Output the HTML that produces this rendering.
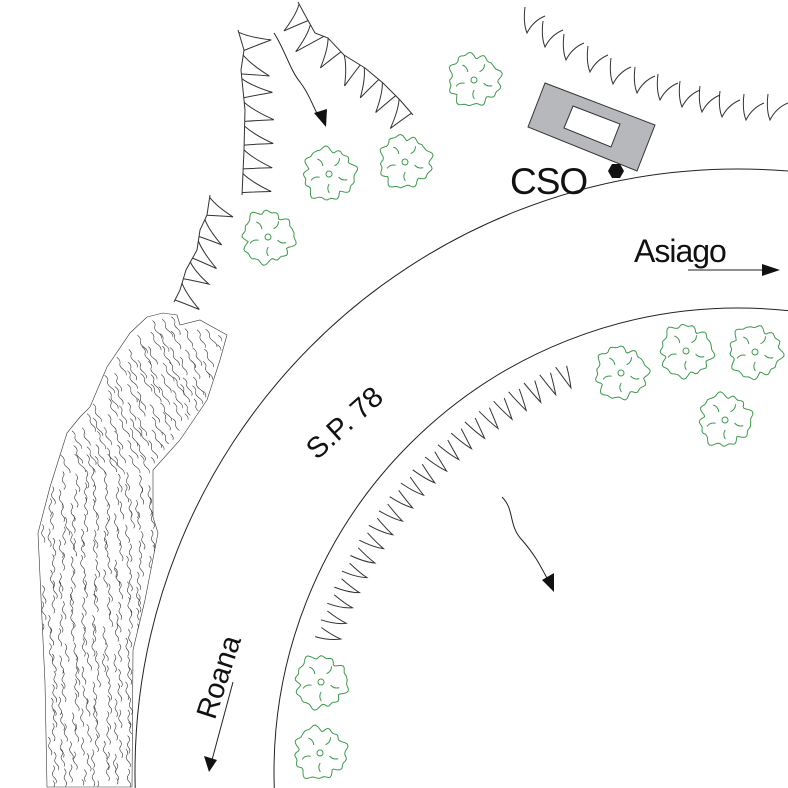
<!DOCTYPE html>
<html><head><meta charset="utf-8">
<style>
html,body{margin:0;padding:0;background:#fff;width:788px;height:788px;overflow:hidden;}
svg{display:block;}
text{font-family:"Liberation Sans",sans-serif;fill:#111;}
</style></head>
<body>
<svg id="s" width="788" height="788" viewBox="0 0 788 788" xmlns="http://www.w3.org/2000/svg">
<rect width="788" height="788" fill="#fff"/>
<g fill="none" stroke="#222" stroke-width="1">
<circle cx="738" cy="772" r="603"/>
<circle cx="738" cy="772" r="464"/>
</g>
<g id="rock" fill="none" stroke="#333" stroke-width="0.6"></g>
<g id="teeth" fill="none" stroke="#333" stroke-width="1"></g>
<g id="trees" fill="none" stroke="#3c9a4c" stroke-width="1"></g>
<polygon points="545,83 655,125 637,171 528,127" fill="#b7b8bb" stroke="#333" stroke-width="1"/>
<polygon points="573,106 620,124 611,147 564,128" fill="#fff" stroke="#333" stroke-width="1"/>
<polygon points="612,164 620,164 624,171 620,178 612,178 608,171" fill="#111"/>
<g fill="none" stroke="#222" stroke-width="1">
<path d="M274,33 C285,50 290,70 300,82 C310,95 312,105 318,115"/>
<path d="M502,497 C515,510 508,525 522,540 C535,555 540,565 548,580"/>
<line x1="688" y1="270" x2="768" y2="270"/>
<line x1="233" y1="682" x2="212" y2="760"/>
</g>
<polygon points="314,113 327,109 326,127" fill="#111"/>
<polygon points="542,580 554,573 554,592" fill="#111"/>
<polygon points="762,264 780,270 762,276" fill="#111"/>
<polygon points="204,756 217,760 209,772" fill="#111"/>
<text x="510" y="194" font-size="37" letter-spacing="-1">CSO</text>
<text x="634" y="262" font-size="32" letter-spacing="-1">Asiago</text>
<text x="0" y="0" font-size="29" transform="translate(351,430) rotate(-42)" text-anchor="middle">S.P. 78</text>
<text x="0" y="0" font-size="29" transform="translate(228,680) rotate(-72)" text-anchor="middle">Roana</text>
</svg>
<script>
(function(){
var seed=7;function rnd(){seed=(seed*16807)%2147483647;return (seed-1)/2147483646;}
var NS="http://www.w3.org/2000/svg";
function add(g,d){var p=document.createElementNS(NS,"path");p.setAttribute("d",d);document.getElementById(g).appendChild(p);}
function plen(P){var L=[0];for(var i=1;i<P.length;i++){L.push(L[i-1]+Math.hypot(P[i][0]-P[i-1][0],P[i][1]-P[i-1][1]));}return L;}
function at(P,L,d){for(var i=1;i<P.length;i++){if(d<=L[i]||i==P.length-1){var seg=L[i]-L[i-1]||1;var t=(d-L[i-1])/seg;var dx=(P[i][0]-P[i-1][0])/seg,dy=(P[i][1]-P[i-1][1])/seg;return [P[i-1][0]+(P[i][0]-P[i-1][0])*t,P[i-1][1]+(P[i][1]-P[i-1][1])*t,dx,dy];}}}
function teeth(P,n,depth,side,w,base){
 var L=plen(P),T=L[L.length-1],sp=T/n;
 if(base){var d="M"+P[0][0]+","+P[0][1];for(var i=1;i<P.length;i++)d+=" L"+P[i][0]+","+P[i][1];add("teeth",d);}
 for(var k=0;k<n;k++){var c=sp*(k+0.5);var a=at(P,L,c-sp*w),b=at(P,L,c+sp*w),m=at(P,L,c);
  var nx=-m[3]*side,ny=m[2]*side;var tx=m[0]+nx*depth+m[2]*sp*0.3,ty=m[1]+ny*depth+m[3]*sp*0.3;
  var q1x=(a[0]+tx)/2-nx*5,q1y=(a[1]+ty)/2-ny*5,q2x=(b[0]+tx)/2-nx*3,q2y=(b[1]+ty)/2-ny*3;
  add("teeth","M"+a[0].toFixed(1)+","+a[1].toFixed(1)+" Q"+q1x.toFixed(1)+","+q1y.toFixed(1)+" "+tx.toFixed(1)+","+ty.toFixed(1)+" Q"+q2x.toFixed(1)+","+q2y.toFixed(1)+" "+b[0].toFixed(1)+","+b[1].toFixed(1));}
}
teeth([[238,30],[244,50],[241,70],[245,110],[244,150],[242,195]],7,29,-1,0.4,true);
teeth([[298,2],[305,15],[315,33],[328,38],[344,55],[365,68],[383,83],[400,100],[413,115]],7,26,1,0.4,true);
teeth([[210,195],[207,215],[200,230],[197,250],[186,270],[180,290],[174,302]],5,26,-1,0.4,true);
var tips=[[527,33],[545,47],[566,60],[590,72],[613,84],[637,93],[660,100],[682,107],[702,112],[722,117],[746,120],[770,120]];
tips.forEach(function(t){add("teeth","M"+(t[0]-2)+","+(t[1]-26)+" Q"+(t[0]-4)+","+(t[1]-10)+" "+t[0]+","+t[1]+" Q"+(t[0]+6)+","+(t[1]-12)+" "+(t[0]+18)+","+(t[1]-17));});
var cx=738,cy=772;
for(var k=0;k<22;k++){var ang=(198.5+k*(66.5-18.5)/21)*Math.PI/180;
 var tx=cx+419*Math.cos(ang),ty=cy+419*Math.sin(ang);
 var a1=ang-0.013,a2=ang+0.011;
 var x1=cx+444*Math.cos(a1),y1=cy+444*Math.sin(a1),x2=cx+441*Math.cos(a2),y2=cy+441*Math.sin(a2);
 add("teeth","M"+x1.toFixed(1)+","+y1.toFixed(1)+" Q"+((x1+tx)/2+2).toFixed(1)+","+((y1+ty)/2+3).toFixed(1)+" "+tx.toFixed(1)+","+ty.toFixed(1)+" Q"+((x2+tx)/2+1).toFixed(1)+","+((y2+ty)/2+2).toFixed(1)+" "+x2.toFixed(1)+","+y2.toFixed(1));}
var TR=[[474,80],[329,174],[405,162],[268,237],[621,373],[686,351],[755,352],[725,420],[321,682],[320,753]];
TR.forEach(function(c){var d="";var N=80;for(var i=0;i<=N;i++){var a=i/N*2*Math.PI;var r=23+3.5*Math.abs(Math.sin(a*4+c[0]))+1.5*Math.sin(a*13+c[1])+1.5*Math.cos(a*3);
 var x=c[0]+r*Math.cos(a),y=c[1]+r*Math.sin(a);d+=(i?"L":"M")+x.toFixed(1)+","+y.toFixed(1);}add("trees",d);
 add("trees","M"+(c[0]+3)+","+c[1]+" a3,3 0 1,0 -6,0 a3,3 0 1,0 6,0");
 for(var j=0;j<5;j++){var a=j*1.25+0.3;add("trees","M"+(c[0]+10*Math.cos(a)).toFixed(1)+","+(c[1]+10*Math.sin(a)).toFixed(1)+" Q"+(c[0]+15*Math.cos(a+0.2)).toFixed(1)+","+(c[1]+15*Math.sin(a+0.2)).toFixed(1)+" "+(c[0]+19*Math.cos(a)).toFixed(1)+","+(c[1]+19*Math.sin(a)).toFixed(1));}
});
var poly=[[147,317],[163,313],[177,315],[180,325],[200,320],[227,335],[220,360],[207,400],[180,440],[153,470],[153,517],[158,533],[145,600],[133,650],[132,787],[47,787],[45,683],[38,533],[50,487],[67,433],[80,417],[90,407],[107,367],[130,333]];
var d="M"+poly.map(function(p){return p.join(",");}).join(" L")+" Z";add("rock",d);
function inside(x,y){var c=false;for(var i=0,j=poly.length-1;i<poly.length;j=i++){var xi=poly[i][0],yi=poly[i][1],xj=poly[j][0],yj=poly[j][1];if(((yi>y)!=(yj>y))&&(x<(xj-xi)*(y-yi)/(yj-yi)+xi))c=!c;}return c;}
for(var gy=318;gy<788;gy+=14){for(var gx=40;gx<232;gx+=11){var x=gx+(rnd()-0.5)*6,y=gy+(rnd()-0.5)*8;if(!inside(x,y))continue;
 var s="M"+x.toFixed(1)+","+y.toFixed(1);var px=x,py=y;var slant=(y<460)?0.5:0.12;
 for(var k=1;k<=3;k++){var nx=px+slant*6+(rnd()-0.5)*2,ny=py+6;
  if(!inside(nx,ny))break;var off=(k%2?2.5:-2.5);s+=" Q"+((px+nx)/2+off).toFixed(1)+","+((py+ny)/2).toFixed(1)+" "+nx.toFixed(1)+","+ny.toFixed(1);px=nx;py=ny;}
 add("rock",s);}}
})();
</script>
</body></html>
